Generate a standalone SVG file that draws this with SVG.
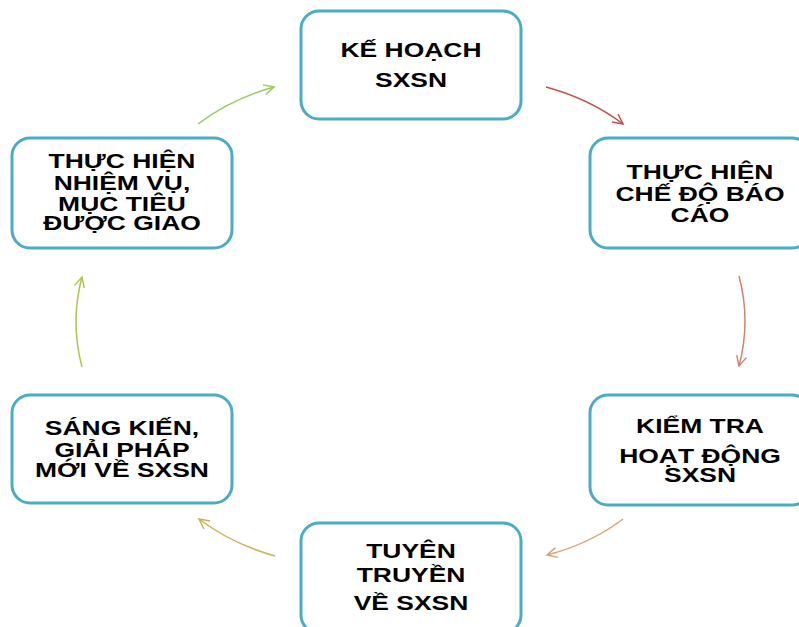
<svg xmlns="http://www.w3.org/2000/svg" width="799" height="627" viewBox="0 0 799 627">
<style>
.box{fill:#ffffff;stroke:#4bacc6;stroke-width:3}
.t{font-family:"Liberation Sans",Arial,sans-serif;font-weight:bold;font-size:21px;text-anchor:middle;fill:#000}
.c{fill:none;stroke-width:1.5}
</style>
<defs>
<marker id="m1" markerUnits="userSpaceOnUse" markerWidth="14" markerHeight="14" viewBox="-12 -7 14 14" refX="0" refY="0" orient="auto"><path d="M-10,-5 L0,0 L-10,5" fill="none" stroke="#c0504d" stroke-width="1.5"/></marker>
<marker id="m2" markerUnits="userSpaceOnUse" markerWidth="14" markerHeight="14" viewBox="-12 -7 14 14" refX="0" refY="0" orient="auto"><path d="M-10,-5 L0,0 L-10,5" fill="none" stroke="#d08468" stroke-width="1.5"/></marker>
<marker id="m3" markerUnits="userSpaceOnUse" markerWidth="14" markerHeight="14" viewBox="-12 -7 14 14" refX="0" refY="0" orient="auto"><path d="M-10,-5 L0,0 L-10,5" fill="none" stroke="#d6a575" stroke-width="1.5"/></marker>
<marker id="m4" markerUnits="userSpaceOnUse" markerWidth="14" markerHeight="14" viewBox="-12 -7 14 14" refX="0" refY="0" orient="auto"><path d="M-10,-5 L0,0 L-10,5" fill="none" stroke="#c9b25a" stroke-width="1.5"/></marker>
<marker id="m5" markerUnits="userSpaceOnUse" markerWidth="14" markerHeight="14" viewBox="-12 -7 14 14" refX="0" refY="0" orient="auto"><path d="M-10,-5 L0,0 L-10,5" fill="none" stroke="#b3c24c" stroke-width="1.5"/></marker>
<marker id="m6" markerUnits="userSpaceOnUse" markerWidth="14" markerHeight="14" viewBox="-12 -7 14 14" refX="0" refY="0" orient="auto"><path d="M-10,-5 L0,0 L-10,5" fill="none" stroke="#9bc75c" stroke-width="1.5"/></marker>
</defs>
<rect width="799" height="627" fill="#ffffff"/>
<g id="connectors">
<path class="c" stroke="#c0504d" d="M546,87 Q590,99 623,124" marker-end="url(#m1)"/>
<path class="c" stroke="#d08468" d="M739,276 Q751,321 739,366" marker-end="url(#m2)"/>
<path class="c" stroke="#d6a575" d="M623,519 Q590,544 547,555" marker-end="url(#m3)"/>
<path class="c" stroke="#c9b25a" d="M275,556 Q232,544 199,519" marker-end="url(#m4)"/>
<path class="c" stroke="#b3c24c" d="M82,367 Q70,322 82,277" marker-end="url(#m5)"/>
<path class="c" stroke="#9bc75c" d="M198,124 Q231,99 274,87" marker-end="url(#m6)"/>
</g>
<g id="n1">
<rect class="box" x="301" y="11" width="220" height="108" rx="18"/>
<g transform="translate(411 0) scale(1.26 1)"><text class="t"><tspan x="0" y="57">KẾ HOẠCH</tspan><tspan x="0" y="87">SXSN</tspan></text></g>
</g>
<g id="n2">
<rect class="box" x="590" y="138" width="220" height="110" rx="18"/>
<g transform="translate(700 0) scale(1.26 1)"><text class="t"><tspan x="0" y="179">THỰC HIỆN</tspan><tspan x="0" y="201">CHẾ ĐỘ BÁO</tspan><tspan x="0" y="222">CÁO</tspan></text></g>
</g>
<g id="n3">
<rect class="box" x="590" y="395" width="220" height="110" rx="18"/>
<g transform="translate(700 0) scale(1.26 1)"><text class="t"><tspan x="0" y="433">KIỂM TRA</tspan><tspan x="0" y="463">HOẠT ĐỘNG</tspan><tspan x="0" y="482">SXSN</tspan></text></g>
</g>
<g id="n4">
<rect class="box" x="301" y="523" width="220" height="110" rx="18"/>
<g transform="translate(411 0) scale(1.26 1)"><text class="t"><tspan x="0" y="558">TUYÊN</tspan><tspan x="0" y="582">TRUYỀN</tspan><tspan x="0" y="610">VỀ SXSN</tspan></text></g>
</g>
<g id="n5">
<rect class="box" x="12" y="395" width="220" height="108" rx="18"/>
<g transform="translate(122 0) scale(1.26 1)"><text class="t"><tspan x="0" y="435">SÁNG KIẾN,</tspan><tspan x="0" y="457">GIẢI PHÁP</tspan><tspan x="0" y="477">MỚI VỀ SXSN</tspan></text></g>
</g>
<g id="n6">
<rect class="box" x="12" y="138" width="220" height="110" rx="18"/>
<g transform="translate(122 0) scale(1.26 1)"><text class="t"><tspan x="0" y="168">THỰC HIỆN</tspan><tspan x="0" y="190">NHIỆM VỤ,</tspan><tspan x="0" y="211">MỤC TIÊU</tspan><tspan x="0" y="230">ĐƯỢC GIAO</tspan></text></g>
</g>
</svg>
